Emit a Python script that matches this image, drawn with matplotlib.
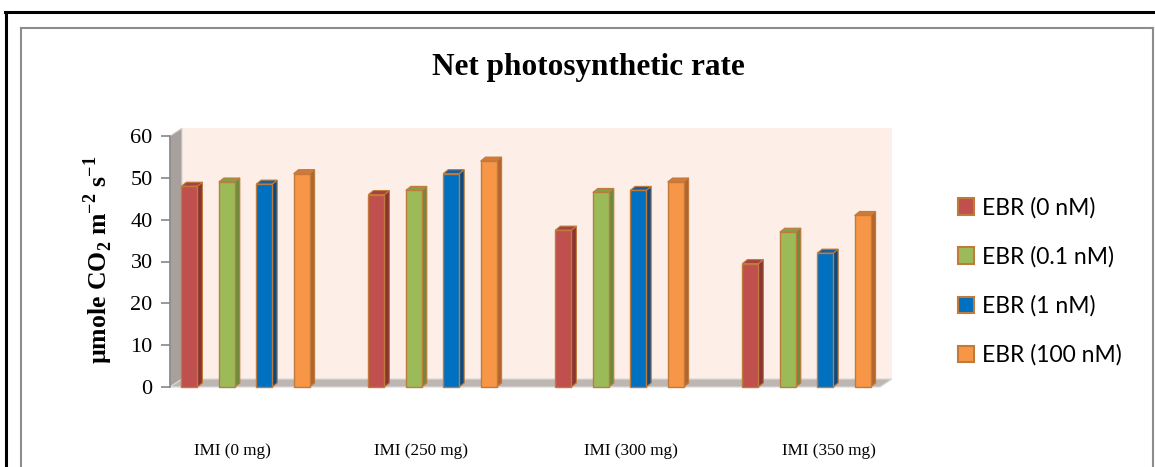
import matplotlib
matplotlib.use("Agg")
import matplotlib.pyplot as plt
from matplotlib.patches import Polygon, Patch
from matplotlib.lines import Line2D

plt.rcParams["mathtext.fontset"] = "custom"
plt.rcParams["mathtext.rm"] = "Liberation Serif:bold"
plt.rcParams["mathtext.bf"] = "Liberation Serif:bold"

# data
groups = ["IMI (0 mg)", "IMI (250 mg)", "IMI (300 mg)", "IMI (350 mg)"]
series = ["EBR (0 nM)", "EBR (0.1 nM)", "EBR (1 nM)", "EBR (100 nM)"]
ebr_0 = [48, 46, 37.5, 29.5]
ebr_01 = [49, 47, 46.5, 37]
ebr_1 = [48.5, 51, 47, 32]
ebr_100 = [51, 54, 49, 41]
values = [ebr_0, ebr_01, ebr_1, ebr_100]

front_colors = ["#C0504D", "#9BBB59", "#0070C0", "#F79646"]
side_colors = ["#8A3532", "#6E8A3C", "#0B4A80", "#B3662C"]
top_colors = ["#A3423E", "#849F4A", "#1A5E9C", "#D27A35"]
edge_col = "#C07A3C"

W, H = 1155, 467
fig = plt.figure(figsize=(W / 100, H / 100), dpi=100)

# axes placed so that the front plane matches the picture
ax_l, ax_r, ax_b, ax_t = 170, 880, 387, 136
ax = fig.add_axes([ax_l / W, (H - ax_b) / H, (ax_r - ax_l) / W, (ax_b - ax_t) / H])

px_x = 187.0            # pixels per group
px_y = (ax_b - ax_t) / 60.0
x0 = (ax_l - 245.5) / px_x
x1 = (ax_r - 245.5) / px_x
ax.set_xlim(x0, x1)
ax.set_ylim(0, 60)

# 3D walls
dxw, dyw = 12 / px_x, 8 / px_y
ax.add_patch(Polygon([(x0 + dxw, dyw), (x1 + dxw, dyw), (x1 + dxw, 60 + dyw), (x0 + dxw, 60 + dyw)],
                     closed=True, facecolor="#FDEEE7", edgecolor="none", clip_on=False, zorder=0))
ax.add_patch(Polygon([(x0, 0), (x0, 60), (x0 + dxw, 60 + dyw), (x0 + dxw, dyw)],
                     closed=True, facecolor="#A8A09D", edgecolor="#D9D9D9", lw=0.8, clip_on=False, zorder=1))
ax.add_patch(Polygon([(x0, 0), (x1, 0), (x1 + dxw, dyw), (x0 + dxw, dyw)],
                     closed=True, facecolor="#BDB6B3", edgecolor="#D9D9D9", lw=0.8, clip_on=False, zorder=1))

# 3D bars
offsets = [-0.3, -0.1, 0.1, 0.3]
bw = 16 / px_x
dxb, dyb = 5 / px_x, 4 / px_y
for k, vals in enumerate(values):
    xs = [i + offsets[k] for i in range(len(groups))]
    ax.bar(xs, vals, width=bw, color=front_colors[k], edgecolor=edge_col, linewidth=1,
           zorder=4, clip_on=False)
    for x, v in zip(xs, vals):
        r = x + bw / 2
        l = x - bw / 2
        ax.add_patch(Polygon([(r, 0), (r, v), (r + dxb, v + dyb), (r + dxb, dyb)], closed=True,
                             facecolor=side_colors[k], edgecolor=edge_col, lw=0.8, clip_on=False, zorder=3))
        ax.add_patch(Polygon([(l, v), (r, v), (r + dxb, v + dyb), (l + dxb, v + dyb)], closed=True,
                             facecolor=top_colors[k], edgecolor=edge_col, lw=0.8, clip_on=False, zorder=3))

# axes styling
for s in ["top", "right", "bottom"]:
    ax.spines[s].set_visible(False)
ax.spines["left"].set_color("#868686")
ax.spines["left"].set_linewidth(1.2)
ax.set_yticks(range(0, 61, 10))
ax.tick_params(axis="y", length=6.5, width=1.2, color="#868686", pad=6, labelsize=16)
for t in ax.get_yticklabels():
    t.set_fontfamily("Liberation Serif")

label_pos = [-0.07, 0.94, 2.06, 3.12]
ax.set_xticks(label_pos)
ax.set_xticklabels(groups, fontfamily="Liberation Serif", fontsize=12.3)
ax.tick_params(axis="x", length=0, pad=40)

ax.patch.set_visible(False)

fig.text(588 / W, 1 - 68 / H, "Net photosynthetic rate", ha="center", va="center",
         fontfamily="Liberation Serif", fontweight="bold", fontsize=22.5)
fig.text(98 / W, 1 - 260 / H, "µmole CO$_2$ m$^{-2}$ s$^{-1}$", rotation=90, ha="center", va="center",
         fontfamily="Liberation Serif", fontweight="bold", fontsize=18.5)

handles = [Patch(facecolor=c, edgecolor=edge_col, linewidth=1.5) for c in front_colors]
fig.legend(handles, series, loc="upper left", bbox_to_anchor=(958 / W, 1 - 197 / H),
           frameon=False, borderpad=0, borderaxespad=0, handlelength=0.7, handleheight=0.7,
           handletextpad=0.35, labelspacing=1.2, prop={"family": "Lato", "size": 16.5})

# outer frames
fig.add_artist(Line2D([5 / W, 1], [1 - 12 / H, 1 - 12 / H], transform=fig.transFigure, color="black", lw=2.2))
fig.add_artist(Line2D([6 / W, 6 / W], [0, 1 - 12 / H], transform=fig.transFigure, color="black", lw=2.2))
gy = 1 - 28 / H
fig.add_artist(Line2D([21 / W, 1153 / W], [gy, gy], transform=fig.transFigure, color="#8C8C8C", lw=1.5))
fig.add_artist(Line2D([21 / W, 21 / W], [0, gy], transform=fig.transFigure, color="#8C8C8C", lw=1.5))
fig.add_artist(Line2D([1153 / W, 1153 / W], [0, gy], transform=fig.transFigure, color="#8C8C8C", lw=1.5))

fig.savefig("out.png", dpi=100)
